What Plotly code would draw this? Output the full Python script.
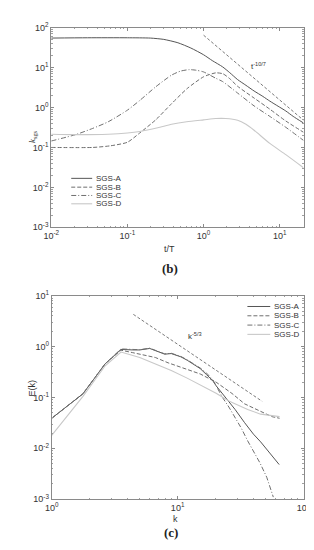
import plotly.graph_objects as go

W, H = 314, 550

# ---------------- panel (b) data ----------------
names = ["SGS-A", "SGS-B", "SGS-C", "SGS-D"]

tA = [0.01, 0.03, 0.1, 0.2, 0.3, 0.46, 0.68, 1.0, 1.3, 1.77, 2.2, 2.8, 3.6, 4.6, 6.0, 7.4, 9.5, 12, 15, 20.5]
kA = [55, 56, 56, 55, 51, 42, 31, 21, 15, 10.5, 7.5, 5.0, 3.6, 2.6, 1.9, 1.45, 1.08, 0.82, 0.6, 0.41]

tB = [0.01, 0.035, 0.06, 0.1, 0.145, 0.235, 0.38, 0.61, 1.0, 1.45, 1.8, 2.2, 2.8, 4.6, 7.4, 12, 20.5]
kB = [0.10, 0.10, 0.11, 0.135, 0.23, 0.49, 1.25, 3.0, 5.9, 7.4, 7.0, 5.3, 3.4, 1.73, 0.91, 0.46, 0.24]

tC = [0.01, 0.021, 0.035, 0.056, 0.1, 0.145, 0.235, 0.38, 0.5, 0.65, 0.8, 1.0, 1.45, 1.77, 2.8, 4.6, 7.4, 12, 20.5]
kC = [0.145, 0.21, 0.30, 0.44, 0.86, 1.5, 3.3, 6.5, 8.2, 8.9, 8.6, 7.8, 5.4, 4.5, 2.3, 1.1, 0.6, 0.32, 0.15]

tD = [0.01, 0.021, 0.056, 0.1, 0.145, 0.25, 0.38, 0.6, 1.0, 1.45, 1.95, 2.8, 3.6, 4.6, 7.4, 12, 20.5]
kD = [0.215, 0.21, 0.215, 0.23, 0.25, 0.31, 0.38, 0.44, 0.49, 0.53, 0.53, 0.48, 0.38, 0.27, 0.126, 0.066, 0.031]

t_ref = [1.0, 20.5]
k_ref = [65, 0.48]

# ---------------- panel (c) data ----------------
kxA = [1, 1.77, 2.66, 3.55, 4.4, 5.0, 6.0, 6.5, 7.1, 7.9, 8.9, 10.0, 10.6, 11.9, 13.5, 15.1, 17, 19.1, 20.2, 22.7, 25.5, 28.6, 34, 40, 45.6, 55, 64]
EA = [0.039, 0.118, 0.46, 0.88, 0.86, 0.86, 0.92, 0.85, 0.78, 0.71, 0.73, 0.66, 0.63, 0.54, 0.45, 0.37, 0.28, 0.21, 0.17, 0.12, 0.085, 0.058, 0.032, 0.019, 0.0134, 0.0078, 0.0048]

kxB = [1, 1.77, 2.66, 3.55, 4.4, 5.0, 6.66, 8.4, 11.9, 15.1, 20.2, 27, 34, 40, 48, 56, 64.5]
EB = [0.039, 0.118, 0.46, 0.85, 0.76, 0.71, 0.61, 0.48, 0.36, 0.29, 0.2, 0.12, 0.075, 0.062, 0.049, 0.042, 0.039]

kxC = [1, 1.77, 2.66, 3.55, 4.4, 5.0, 6.0, 6.5, 7.1, 7.9, 8.9, 10.0, 10.6, 11.9, 13.5, 15.1, 17, 19.1, 20.2, 22.7, 25.5, 28.6, 32, 36, 40.5, 45, 51, 57.5]
EC = [0.039, 0.118, 0.46, 0.90, 0.88, 0.87, 0.93, 0.86, 0.79, 0.72, 0.74, 0.67, 0.64, 0.55, 0.46, 0.38, 0.30, 0.22, 0.17, 0.10, 0.065, 0.04, 0.025, 0.014, 0.0085, 0.0052, 0.0027, 0.0011]

kxD = [1, 1.77, 2.66, 3.55, 5.0, 6.66, 8.9, 11.9, 15.1, 20.2, 25.5, 36, 45.6, 55, 64.5]
ED = [0.018, 0.105, 0.42, 0.78, 0.61, 0.46, 0.34, 0.24, 0.176, 0.121, 0.085, 0.058, 0.047, 0.044, 0.042]

kx_ref = [4.45, 46.9]
E_ref = [4.3, 0.084]

# ---------------- tick labels ----------------
tb_x_vals = [0.01, 0.1, 1, 10]
tb_x_text = ["10<sup>-2</sup>", "10<sup>-1</sup>", "10<sup>0</sup>", "10<sup>1</sup>"]
tb_y_vals = [0.001, 0.01, 0.1, 1, 10, 100]
tb_y_text = ["10<sup>-3</sup>", "10<sup>-2</sup>", "10<sup>-1</sup>", "10<sup>0</sup>", "10<sup>1</sup>", "10<sup>2</sup>"]
tc_x_vals = [1, 10, 100]
tc_x_text = ["10<sup>0</sup>", "10<sup>1</sup>", "10<sup>2</sup>"]
tc_y_vals = [0.001, 0.01, 0.1, 1, 10]
tc_y_text = ["10<sup>-3</sup>", "10<sup>-2</sup>", "10<sup>-1</sup>", "10<sup>0</sup>", "10<sup>1</sup>"]

# ---------------- styles ----------------
styles = [
    dict(color="#555555", width=1.0, dash="solid"),
    dict(color="#6e6e6e", width=1.0, dash="4px,2px"),
    dict(color="#707070", width=1.0, dash="5px,2px,1px,2px"),
    dict(color="#c8c8c8", width=1.1, dash="solid"),
]
ref_style = dict(color="#7a7a7a", width=1.0, dash="3px,2px")

fig = go.Figure()

top = [(tA, kA), (tB, kB), (tC, kC), (tD, kD)]
for (x, y), nm, st in zip(top, names, styles):
    fig.add_trace(go.Scatter(x=x, y=y, mode="lines", name=nm, line=dict(shape="spline", smoothing=0.6, **st),
                             xaxis="x", yaxis="y", showlegend=False))
fig.add_trace(go.Scatter(x=t_ref, y=k_ref, mode="lines", line=ref_style, xaxis="x", yaxis="y", showlegend=False))

bot = [(kxA, EA), (kxB, EB), (kxC, EC), (kxD, ED)]
for (x, y), nm, st in zip(bot, names, styles):
    fig.add_trace(go.Scatter(x=x, y=y, mode="lines", name=nm, line=st,
                             xaxis="x2", yaxis="y2", showlegend=False))
fig.add_trace(go.Scatter(x=kx_ref, y=E_ref, mode="lines", line=ref_style, xaxis="x2", yaxis="y2", showlegend=False))

tickfont = dict(family="Liberation Sans", size=9, color="#333333")
common = dict(type="log", showgrid=False, zeroline=False,
              showline=True, linecolor="#8a8a8a", linewidth=1, mirror="allticks",
              ticks="inside", ticklen=3, tickcolor="#8a8a8a", tickfont=tickfont,
              minor=dict(ticks="inside", ticklen=1.5, tickcolor="#a0a0a0", dtick="D1", showgrid=False))

px2x = lambda p: p / W
py2y = lambda p: 1 - p / H

fig.update_layout(
    width=W, height=H, autosize=False,
    margin=dict(l=0, r=0, t=0, b=0),
    paper_bgcolor="white", plot_bgcolor="white",
    xaxis=dict(domain=[px2x(37), px2x(302)], range=[-2, 1.3125], anchor="y",
               tickmode="array", tickvals=tb_x_vals, ticktext=tb_x_text, **common),
    yaxis=dict(domain=[py2y(217), py2y(13)], range=[-3, 2], anchor="x",
               tickmode="array", tickvals=tb_y_vals, ticktext=tb_y_text, **common),
    xaxis2=dict(domain=[px2x(37.5), px2x(302)], range=[0, 2], anchor="y2",
                tickmode="array", tickvals=tc_x_vals, ticktext=tc_x_text, **common),
    yaxis2=dict(domain=[py2y(495), py2y(287)], range=[-3, 1], anchor="x2",
                tickmode="array", tickvals=tc_y_vals, ticktext=tc_y_text, **common),
)

annotations = []
lab = dict(family="Liberation Sans", size=9, color="#333333")
annotations.append(dict(x=px2x(10), y=py2y(116), xref="paper", yref="paper", text="<i>k</i><sub>sgs</sub>",
                        showarrow=False, textangle=-90, font=dict(family="Liberation Serif", size=9, color="#333333")))
annotations.append(dict(x=px2x(161), y=py2y(239), xref="paper", yref="paper", text="t/T", showarrow=False, font=lab))
annotations.append(dict(x=px2x(9), y=py2y(392), xref="paper", yref="paper", text="E(k)", showarrow=False,
                        textangle=-90, font=lab))
annotations.append(dict(x=px2x(167), y=py2y(522), xref="paper", yref="paper", text="k", showarrow=False, font=lab))
annotations.append(dict(x=px2x(162), y=py2y(259), xref="paper", yref="paper", text="<b>(b)</b>", showarrow=False,
                        font=dict(family="Liberation Serif", size=13, color="#222222")))
annotations.append(dict(x=px2x(163), y=py2y(539), xref="paper", yref="paper", text="<b>(c)</b>", showarrow=False,
                        font=dict(family="Liberation Serif", size=13, color="#222222")))
# slope labels (positions in log10 units of the axes)
annotations.append(dict(x=0.6, y=1.05, xref="x", yref="y", text="t<sup>-10/7</sup>", showarrow=False,
                        xanchor="left", font=dict(family="Liberation Sans", size=8, color="#333333")))
annotations.append(dict(x=1.07, y=0.2, xref="x2", yref="y2", text="k<sup>-5/3</sup>", showarrow=False,
                        xanchor="left", font=dict(family="Liberation Sans", size=8, color="#333333")))

# manual legends (text from names list)
shapes = []
leg_font = dict(family="Liberation Sans", size=8, color="#333333")
rows_b = [167, 176, 184.5, 193]
rows_c = [298, 307.5, 317, 326.5]
for nm, st, yb, yc in zip(names, styles, rows_b, rows_c):
    for (x0, x1, xt, yy) in [(58, 80, 82, yb), (243, 267, 268.5, yc)]:
        shapes.append(dict(type="line", xref="paper", yref="paper", x0=px2x(x0), x1=px2x(x1),
                           y0=py2y(yy), y1=py2y(yy), line=st))
        annotations.append(dict(x=px2x(xt), y=py2y(yy), xref="paper", yref="paper", text=nm, showarrow=False,
                                xanchor="left", yanchor="middle", font=leg_font))

fig.update_layout(annotations=annotations, shapes=shapes)
fig.write_html("out.html")
